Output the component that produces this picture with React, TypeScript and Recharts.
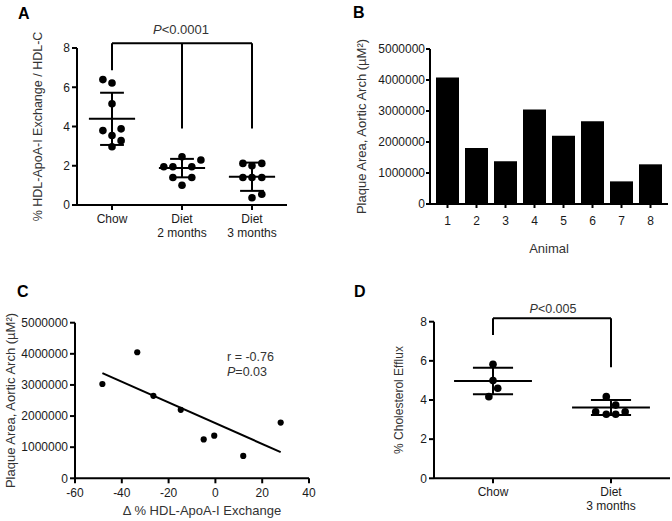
import React from 'react';
import {
  ScatterChart,
  Scatter,
  BarChart,
  Bar,
  XAxis,
  YAxis,
  ReferenceLine,
} from 'recharts';

// ---- panel A: HDL-ApoA-I exchange per group
const aGroups = [['Chow'], ['Diet', '2 months'], ['Diet', '3 months']];
const aChow = [6.39, 6.22, 5.16, 3.79, 3.88, 3.54, 3.28, 2.97];
const aDiet2 = [1.95, 1.95, 2.46, 1.95, 2.29, 1.4, 1.4, 1.01];
const aDiet3 = [2.12, 2.0, 2.12, 1.4, 1.4, 1.4, 0.37, 0.55];
const aJitter = [
  [-0.13, 0, 0, -0.13, 0.13, 0, 0.13, 0],
  [-0.26, -0.13, 0, 0.14, 0.27, -0.13, 0.14, 0],
  [-0.13, 0, 0.14, -0.13, 0, 0.14, 0, 0.14],
];
const aMeans = [4.39, 1.88, 1.44];
const aSd = [1.33, 0.47, 0.72];
const aBracketTop = 8.24;
const aBracketLegs = [6.87, 3.9, 3.9];

// ---- panel B: plaque area per animal
const bAnimals = ['1', '2', '3', '4', '5', '6', '7', '8'];
const bPlaque = [4080000, 1810000, 1380000, 3050000, 2200000, 2670000, 730000, 1280000];

// ---- panel C: correlation
const cDelta = [-48.3, -33.4, -26.5, -14.8, -5, -0.5, 11.9, 27.9];
const cPlaque = [3030000, 4050000, 2650000, 2200000, 1250000, 1370000, 720000, 1790000];
const cFitX = [-48.3, 27.9];
const cFitY = [3380000, 840000];

// ---- panel D: cholesterol efflux
const dGroups = [['Chow'], ['Diet', '3 months']];
const dChow = [5.82, 4.99, 4.6, 4.17];
const dDiet = [4.17, 3.74, 3.4, 3.27, 3.27, 3.4];
const dJitter = [
  [0, 0, 0.04, -0.035],
  [-0.04, 0.04, -0.13, -0.04, 0.04, 0.12],
];
const dMeans = [4.97, 3.62];
const dSd = [0.68, 0.385];
const dBracketTop = 8.17;
const dBracketLegs = [7.32, 5.67];

const FONT = '"Liberation Sans", Arial, Helvetica, sans-serif';
const AXIS = { stroke: '#000', strokeWidth: 2 };
const TICK = { fill: '#1a1a1a', fontSize: 12 };
const LINE = { stroke: '#000', strokeWidth: 2, ifOverflow: 'visible' as const };

const toPoints = (values: number[], group: number, jitter: number[]) =>
  values.map((y, i) => ({ x: group + jitter[i], y }));

const dot = (r: number) => (props: any) =>
  <circle cx={props.cx} cy={props.cy} r={r} fill="#000" />;

function GroupTick({ x, y, payload, groups }: any) {
  const lines: string[] = groups[Math.round(payload.value) - 1] || [];
  return (
    <text x={x} y={y} textAnchor="middle" fill="#1a1a1a" fontSize={12}>
      {lines.map((l, i) => (
        <tspan key={i} x={x} dy={i === 0 ? 11 : 14}>{l}</tspan>
      ))}
    </text>
  );
}

function meanSdLines(means: number[], sds: number[], id: string) {
  return means.flatMap((m, i) => {
    const g = i + 1;
    const lo = m - sds[i];
    const hi = m + sds[i];
    return [
      <ReferenceLine key={`${id}m${i}`} segment={[{ x: g - 0.33, y: m }, { x: g + 0.33, y: m }]} {...LINE} />,
      <ReferenceLine key={`${id}h${i}`} segment={[{ x: g - 0.17, y: hi }, { x: g + 0.17, y: hi }]} {...LINE} />,
      <ReferenceLine key={`${id}l${i}`} segment={[{ x: g - 0.17, y: lo }, { x: g + 0.17, y: lo }]} {...LINE} />,
      <ReferenceLine key={`${id}v${i}`} segment={[{ x: g, y: lo }, { x: g, y: hi }]} {...LINE} />,
    ];
  });
}

function bracketLines(top: number, legs: number[], id: string) {
  return [
    <ReferenceLine key={`${id}top`} segment={[{ x: 1, y: top }, { x: legs.length, y: top }]} {...LINE} />,
    ...legs.map((b, i) => (
      <ReferenceLine key={`${id}leg${i}`} segment={[{ x: i + 1, y: top }, { x: i + 1, y: b }]} {...LINE} />
    )),
  ];
}

const yLabel = (value: string, offset: number, fontSize: number) => ({
  value,
  angle: -90,
  position: 'insideLeft' as const,
  offset,
  fill: '#333',
  fontSize,
  style: { textAnchor: 'middle' },
});

export default function App() {
  const aSeries = [aChow, aDiet2, aDiet3].map((v, i) => toPoints(v, i + 1, aJitter[i]));
  const dSeries = [dChow, dDiet].map((v, i) => toPoints(v, i + 1, dJitter[i]));
  const bData = bAnimals.map((a, i) => ({ animal: a, plaque: bPlaque[i] }));
  const cData = cDelta.map((x, i) => ({ x, y: cPlaque[i] }));

  return (
    <div style={{ position: 'absolute', left: 0, top: 0, width: 672, height: 521, background: '#fff', fontFamily: FONT }}>
      {/* A */}
      <div style={{ position: 'absolute', left: 0, top: 0 }}>
        <ScatterChart width={336} height={260} margin={{ top: 48, right: 49, bottom: 0, left: 0 }}>
          <XAxis
            type="number"
            dataKey="x"
            domain={[0.5, 3.5]}
            ticks={[1, 2, 3]}
            height={55}
            axisLine={AXIS}
            tickLine={AXIS}
            tickSize={5}
            tickMargin={2}
            tick={(p: any) => <GroupTick {...p} groups={aGroups} />}
          />
          <YAxis
            type="number"
            dataKey="y"
            domain={[0, 8]}
            ticks={[0, 2, 4, 6, 8]}
            width={77}
            axisLine={AXIS}
            tickLine={AXIS}
            tickSize={5}
            tickMargin={2}
            tick={TICK}
            label={yLabel('% HDL-ApoA-I Exchange / HDL-C', 38, 12.5)}
          />
          {bracketLines(aBracketTop, aBracketLegs, 'a')}
          {meanSdLines(aMeans, aSd, 'a')}
          {aSeries.map((pts, i) => (
            <Scatter key={i} data={pts} shape={dot(3.8)} isAnimationActive={false} />
          ))}
        </ScatterChart>
      </div>

      {/* B */}
      <div style={{ position: 'absolute', left: 336, top: 0 }}>
        <BarChart width={336} height={260} data={bData} barSize={23} margin={{ top: 49, right: 4, bottom: 0, left: 0 }}>
          <XAxis
            dataKey="animal"
            height={56}
            padding={{ left: 3, right: 3 }}
            axisLine={AXIS}
            tickLine={AXIS}
            tickSize={4}
            tickMargin={8}
            tick={TICK}
            label={{ value: 'Animal', position: 'insideBottom', offset: 7, fill: '#333', fontSize: 13 }}
          />
          <YAxis
            type="number"
            domain={[0, 5000000]}
            ticks={[0, 1000000, 2000000, 3000000, 4000000, 5000000]}
            width={94}
            axisLine={AXIS}
            tickLine={AXIS}
            tickSize={4}
            tickMargin={1}
            tick={TICK}
            label={yLabel('Plaque Area, Aortic Arch (µM²)', 25, 13)}
          />
          <Bar dataKey="plaque" fill="#000" isAnimationActive={false} />
        </BarChart>
      </div>

      {/* C */}
      <div style={{ position: 'absolute', left: 0, top: 260 }}>
        <ScatterChart width={336} height={261} margin={{ top: 62.7, right: 27, bottom: 0, left: 0 }}>
          <XAxis
            type="number"
            dataKey="x"
            domain={[-60, 40]}
            ticks={[-60, -40, -20, 0, 20, 40]}
            height={42.7}
            axisLine={AXIS}
            tickLine={AXIS}
            tickSize={5}
            tickMargin={5}
            tick={TICK}
            label={{ value: 'Δ % HDL-ApoA-I Exchange', position: 'insideBottom', offset: 6, dx: 10, fill: '#333', fontSize: 13 }}
          />
          <YAxis
            type="number"
            dataKey="y"
            domain={[0, 5000000]}
            ticks={[0, 1000000, 2000000, 3000000, 4000000, 5000000]}
            width={75}
            axisLine={AXIS}
            tickLine={AXIS}
            tickSize={5}
            tickMargin={2}
            tick={TICK}
            label={yLabel('Plaque Area, Aortic Arch (µM²)', 10, 13)}
          />
          <ReferenceLine
            segment={[{ x: cFitX[0], y: cFitY[0] }, { x: cFitX[1], y: cFitY[1] }]}
            {...LINE}
          />
          <Scatter data={cData} shape={dot(3.1)} isAnimationActive={false} />
        </ScatterChart>
      </div>

      {/* D */}
      <div style={{ position: 'absolute', left: 336, top: 260 }}>
        <ScatterChart width={336} height={261} margin={{ top: 61.7, right: 2, bottom: 0, left: 0 }}>
          <XAxis
            type="number"
            dataKey="x"
            domain={[0.5, 2.5]}
            ticks={[1, 2]}
            height={42.7}
            axisLine={AXIS}
            tickLine={AXIS}
            tickSize={5}
            tickMargin={2}
            tick={(p: any) => <GroupTick {...p} groups={dGroups} />}
          />
          <YAxis
            type="number"
            dataKey="y"
            domain={[0, 8]}
            ticks={[0, 2, 4, 6, 8]}
            width={98}
            axisLine={AXIS}
            tickLine={AXIS}
            tickSize={5}
            tickMargin={2}
            tick={TICK}
            label={yLabel('% Cholesterol Efflux', 63, 12)}
          />
          {bracketLines(dBracketTop, dBracketLegs, 'd')}
          {meanSdLines(dMeans, dSd, 'd')}
          {dSeries.map((pts, i) => (
            <Scatter key={i} data={pts} shape={dot(3.8)} isAnimationActive={false} />
          ))}
        </ScatterChart>
      </div>

      {/* panel letters and annotations */}
      <svg width={672} height={521} style={{ position: 'absolute', left: 0, top: 0, pointerEvents: 'none' }}>
        <g fontWeight="bold" fontSize={16} fill="#000">
          <text x={18} y={18.5}>A</text>
          <text x={353} y={18}>B</text>
          <text x={17} y={296.5}>C</text>
          <text x={354} y={296.5}>D</text>
        </g>
        <g fontSize={13} fill="#333">
          <text x={181} y={34} textAnchor="middle"><tspan fontStyle="italic">P</tspan>&lt;0.0001</text>
          <text x={553} y={313} textAnchor="middle" fontSize={12.5}><tspan fontStyle="italic">P</tspan>&lt;0.005</text>
          <text x={227} y={361} fontSize={12.5}>r = -0.76</text>
          <text x={227} y={376} fontSize={12.5}><tspan fontStyle="italic">P</tspan>=0.03</text>
        </g>
      </svg>
    </div>
  );
}
